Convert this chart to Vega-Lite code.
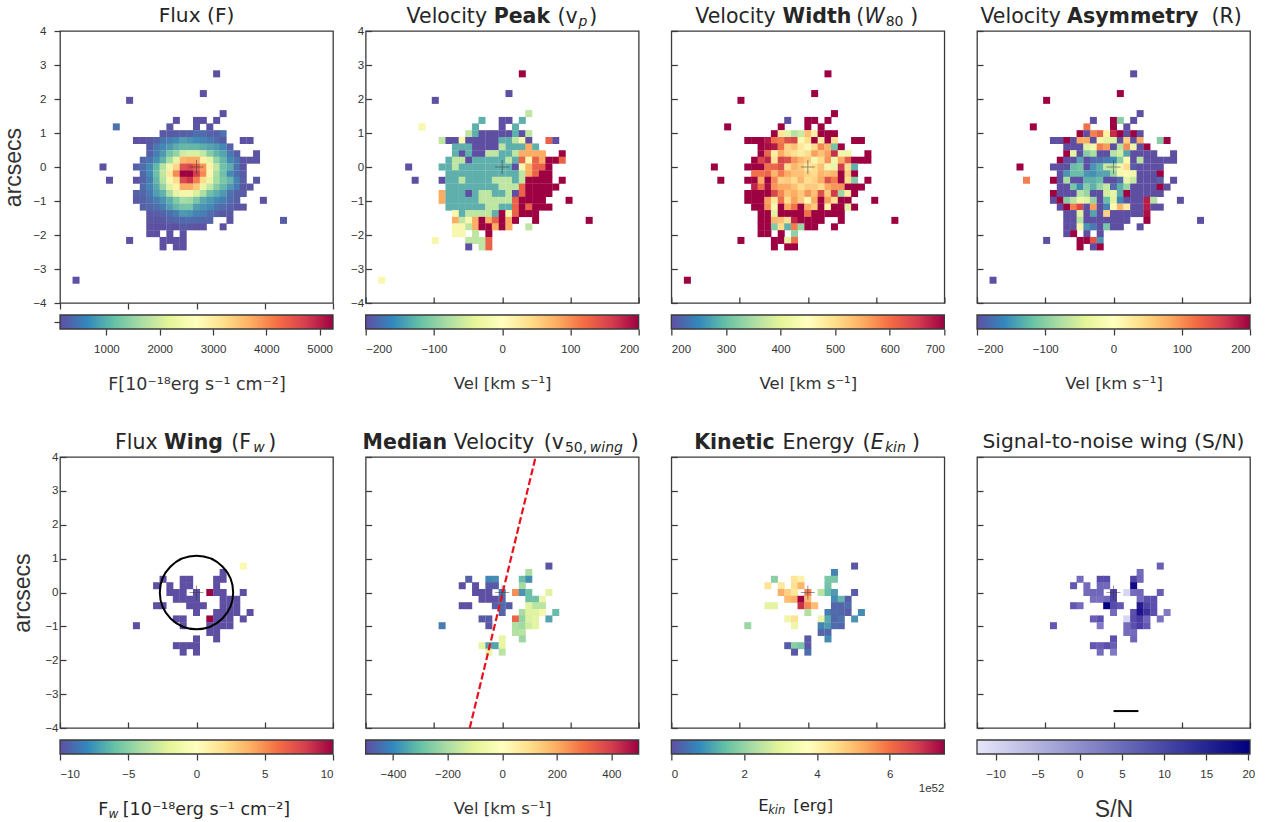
{"$schema":"https://vega.github.io/schema/vega-lite/v6.json","padding":{"left":2,"top":5,"right":0,"bottom":0},"background":"white","columns":4,"bounds":"flush","spacing":{"row":12,"column":32.67},"resolve":{"scale":{"color":"independent"}},
"config":{"view":{"stroke":"#3a3a3a","strokeWidth":1.3},"axis":{"grid":false,"domain":false,"tickColor":"#3a3a3a","tickWidth":1.25,"tickSize":6,"labelFont":"Liberation Sans","labelFontSize":11.5,"labelColor":"#333","labelPadding":8,"labelExpr":"replace(datum.label,'-','−')","titleFont":"DejaVu Sans","titleFontWeight":"normal","titleFontSize":16.5,"titleColor":"#333","titlePadding":21},"title":{"font":"DejaVu Sans","fontSize":20.2,"fontWeight":"normal","color":"#262626","offset":-1},"text":{"font":"DejaVu Sans","fontSize":20.5,"color":"#262626","align":"left","baseline":"alphabetic"}},
"datasets":{"cells":[
{"x":0.59,"y":2.74,"f":150,"vp":200,"w":700,"a":-200},{"x":0.2,"y":2.16,"f":150,"vp":-200,"w":700,"a":200},{"x":-1.96,"y":1.96,"f":170,"vp":-200,"w":700,"a":200},{"x":0.78,"y":1.57,"f":150,"vp":-65,"w":700,"a":-200},
{"x":-0.59,"y":1.37,"f":150,"vp":-130,"w":200,"a":-200},{"x":0,"y":1.37,"f":150,"vp":-200,"w":700,"a":200},{"x":0.2,"y":1.37,"f":150,"vp":-200,"w":700,"a":-100},{"x":0.59,"y":1.37,"f":150,"vp":-130,"w":700,"a":-200},
{"x":-2.35,"y":1.18,"f":450,"vp":-5,"w":700,"a":200},{"x":-0.78,"y":1.18,"f":200,"vp":-130,"w":700,"a":120},{"x":0,"y":1.18,"f":200,"vp":-200,"w":700,"a":200},{"x":0.39,"y":1.18,"f":150,"vp":-130,"w":700,"a":-200},
{"x":-0.98,"y":0.98,"f":200,"vp":-65,"w":700,"a":200},{"x":-0.78,"y":0.98,"f":220,"vp":-130,"w":480,"a":-200},{"x":-0.59,"y":0.98,"f":250,"vp":-200,"w":410,"a":110},{"x":-0.39,"y":0.98,"f":260,"vp":-200,"w":360,"a":130},{"x":-0.2,"y":0.98,"f":300,"vp":-200,"w":380,"a":10},{"x":0,"y":0.98,"f":420,"vp":-200,"w":530,"a":170},{"x":0.2,"y":0.98,"f":400,"vp":-200,"w":470,"a":200},{"x":0.39,"y":0.98,"f":300,"vp":-130,"w":700,"a":-200},{"x":0.59,"y":0.98,"f":280,"vp":-200,"w":700,"a":200},{"x":0.78,"y":0.98,"f":450,"vp":-65,"w":700,"a":-200},
{"x":-1.76,"y":0.78,"f":150,"vp":-65,"w":700,"a":-200},{"x":-1.56,"y":0.78,"f":170,"vp":-200,"w":700,"a":-200},{"x":-1.37,"y":0.78,"f":200,"vp":-200,"w":700,"a":200},{"x":-1.17,"y":0.78,"f":300,"vp":-5,"w":680,"a":-200},{"x":-0.98,"y":0.78,"f":450,"vp":-200,"w":600,"a":80},{"x":-0.78,"y":0.78,"f":550,"vp":-200,"w":590,"a":80},{"x":-0.59,"y":0.78,"f":650,"vp":-200,"w":630,"a":-200},{"x":-0.39,"y":0.78,"f":850,"vp":-200,"w":640,"a":-10},{"x":-0.2,"y":0.78,"f":750,"vp":-200,"w":450,"a":-40},{"x":0,"y":0.78,"f":650,"vp":-130,"w":500,"a":-40},{"x":0.2,"y":0.78,"f":600,"vp":-130,"w":700,"a":-200},{"x":0.39,"y":0.78,"f":500,"vp":-65,"w":470,"a":50},{"x":0.59,"y":0.78,"f":400,"vp":-5,"w":700,"a":-200},{"x":0.78,"y":0.78,"f":250,"vp":-200,"w":500,"a":80},{"x":1.37,"y":0.78,"f":150,"vp":130,"w":700,"a":-100},{"x":1.57,"y":0.78,"f":150,"vp":-200,"w":700,"a":200},
{"x":-1.37,"y":0.59,"f":250,"vp":-130,"w":700,"a":-200},{"x":-1.17,"y":0.59,"f":500,"vp":-130,"w":690,"a":-200},{"x":-0.98,"y":0.59,"f":650,"vp":-130,"w":680,"a":-200},{"x":-0.78,"y":0.59,"f":800,"vp":-200,"w":600,"a":-40},{"x":-0.59,"y":0.59,"f":1000,"vp":-200,"w":510,"a":-10},{"x":-0.39,"y":0.59,"f":1100,"vp":-200,"w":530,"a":110},{"x":-0.2,"y":0.59,"f":1100,"vp":-200,"w":480,"a":90},{"x":0,"y":0.59,"f":1100,"vp":-65,"w":450,"a":-200},{"x":0.2,"y":0.59,"f":1000,"vp":-130,"w":500,"a":-70},{"x":0.39,"y":0.59,"f":900,"vp":-130,"w":580,"a":100},{"x":0.59,"y":0.59,"f":800,"vp":-130,"w":540,"a":-20},{"x":0.78,"y":0.59,"f":650,"vp":80,"w":310,"a":-200},{"x":0.98,"y":0.59,"f":300,"vp":-130,"w":700,"a":200},
{"x":-1.37,"y":0.39,"f":280,"vp":-130,"w":700,"a":200},{"x":-1.17,"y":0.39,"f":550,"vp":-200,"w":610,"a":-30},{"x":-0.98,"y":0.39,"f":800,"vp":-130,"w":470,"a":-200},{"x":-0.78,"y":0.39,"f":1250,"vp":-200,"w":550,"a":-100},{"x":-0.59,"y":0.39,"f":1500,"vp":-200,"w":510,"a":-80},{"x":-0.39,"y":0.39,"f":2000,"vp":-65,"w":490,"a":-200},{"x":-0.2,"y":0.39,"f":2100,"vp":-65,"w":470,"a":-200},{"x":0,"y":0.39,"f":2100,"vp":-130,"w":500,"a":-70},{"x":0.2,"y":0.39,"f":1900,"vp":-130,"w":560,"a":-50},{"x":0.39,"y":0.39,"f":1400,"vp":-65,"w":530,"a":-140},{"x":0.59,"y":0.39,"f":1100,"vp":80,"w":560,"a":-200},{"x":0.78,"y":0.39,"f":900,"vp":80,"w":660,"a":-200},{"x":0.98,"y":0.39,"f":500,"vp":80,"w":430,"a":-200},{"x":1.18,"y":0.39,"f":260,"vp":80,"w":430,"a":-200},{"x":1.76,"y":0.39,"f":180,"vp":200,"w":700,"a":-200},
{"x":-1.56,"y":0.2,"f":350,"vp":-130,"w":700,"a":200},{"x":-1.37,"y":0.2,"f":450,"vp":-65,"w":640,"a":-200},{"x":-1.17,"y":0.2,"f":700,"vp":-65,"w":670,"a":-200},{"x":-0.98,"y":0.2,"f":1050,"vp":-200,"w":490,"a":-140},{"x":-0.78,"y":0.2,"f":1650,"vp":-130,"w":640,"a":-200},{"x":-0.59,"y":0.2,"f":2300,"vp":-130,"w":630,"a":-180},{"x":-0.39,"y":0.2,"f":3600,"vp":-130,"w":570,"a":-180},{"x":-0.2,"y":0.2,"f":3700,"vp":-130,"w":540,"a":-170},{"x":0,"y":0.2,"f":3700,"vp":-130,"w":520,"a":-160},{"x":0.2,"y":0.2,"f":2800,"vp":-65,"w":440,"a":-100},{"x":0.39,"y":0.2,"f":2300,"vp":-130,"w":500,"a":0},{"x":0.59,"y":0.2,"f":1500,"vp":130,"w":570,"a":-200},{"x":0.78,"y":0.2,"f":1100,"vp":-5,"w":430,"a":-70},{"x":0.98,"y":0.2,"f":650,"vp":130,"w":550,"a":-200},{"x":1.18,"y":0.2,"f":450,"vp":80,"w":620,"a":-200},{"x":1.37,"y":0.2,"f":180,"vp":200,"w":700,"a":-200},{"x":1.57,"y":0.2,"f":180,"vp":200,"w":700,"a":-200},{"x":1.76,"y":0.2,"f":180,"vp":130,"w":700,"a":-200},
{"x":-2.74,"y":0,"f":150,"vp":-200,"w":700,"a":200},{"x":-1.76,"y":0,"f":300,"vp":-130,"w":700,"a":-200},{"x":-1.56,"y":0,"f":400,"vp":-130,"w":700,"a":-200},{"x":-1.37,"y":0,"f":650,"vp":-65,"w":700,"a":-200},{"x":-1.17,"y":0,"f":1100,"vp":-130,"w":600,"a":-120},{"x":-0.98,"y":0,"f":1800,"vp":-130,"w":610,"a":-110},{"x":-0.78,"y":0,"f":2500,"vp":-130,"w":630,"a":-200},{"x":-0.59,"y":0,"f":3300,"vp":-130,"w":500,"a":-150},{"x":-0.39,"y":0,"f":4500,"vp":-130,"w":540,"a":-130},{"x":-0.2,"y":0,"f":4600,"vp":-130,"w":520,"a":-60},{"x":0,"y":0,"f":4400,"vp":-130,"w":480,"a":-70},{"x":0.2,"y":0,"f":3900,"vp":-130,"w":500,"a":-10},{"x":0.39,"y":0,"f":2800,"vp":-200,"w":530,"a":40},{"x":0.59,"y":0,"f":1900,"vp":-5,"w":440,"a":-190},{"x":0.78,"y":0,"f":1200,"vp":80,"w":420,"a":-200},{"x":0.98,"y":0,"f":1000,"vp":130,"w":650,"a":-200},{"x":1.18,"y":0,"f":450,"vp":130,"w":500,"a":-200},{"x":1.37,"y":0,"f":170,"vp":200,"w":290,"a":-200},
{"x":-1.56,"y":-0.2,"f":350,"vp":-130,"w":600,"a":-200},{"x":-1.37,"y":-0.2,"f":650,"vp":-130,"w":600,"a":-150},{"x":-1.17,"y":-0.2,"f":1200,"vp":-130,"w":610,"a":-120},{"x":-0.98,"y":-0.2,"f":1900,"vp":-130,"w":540,"a":-120},{"x":-0.78,"y":-0.2,"f":3000,"vp":-130,"w":590,"a":-150},{"x":-0.59,"y":-0.2,"f":4000,"vp":-130,"w":550,"a":-155},{"x":-0.39,"y":-0.2,"f":5250,"vp":-130,"w":530,"a":-140},{"x":-0.2,"y":-0.2,"f":5250,"vp":-130,"w":530,"a":-140},{"x":0,"y":-0.2,"f":4700,"vp":-130,"w":510,"a":-90},{"x":0.2,"y":-0.2,"f":4000,"vp":-130,"w":500,"a":-10},{"x":0.39,"y":-0.2,"f":2700,"vp":-130,"w":540,"a":0},{"x":0.59,"y":-0.2,"f":1700,"vp":-65,"w":530,"a":-10},{"x":0.78,"y":-0.2,"f":1200,"vp":80,"w":540,"a":-200},{"x":0.98,"y":-0.2,"f":650,"vp":130,"w":700,"a":-200},{"x":1.18,"y":-0.2,"f":400,"vp":200,"w":520,"a":-200},{"x":1.37,"y":-0.2,"f":250,"vp":200,"w":700,"a":200},
{"x":-2.55,"y":-0.39,"f":150,"vp":-200,"w":700,"a":110},{"x":-1.76,"y":-0.39,"f":170,"vp":-200,"w":700,"a":200},{"x":-1.56,"y":-0.39,"f":300,"vp":-130,"w":700,"a":-200},{"x":-1.37,"y":-0.39,"f":550,"vp":-130,"w":550,"a":-80},{"x":-1.17,"y":-0.39,"f":1100,"vp":-65,"w":700,"a":-200},{"x":-0.98,"y":-0.39,"f":1800,"vp":-130,"w":580,"a":-200},{"x":-0.78,"y":-0.39,"f":2700,"vp":-130,"w":510,"a":-130},{"x":-0.59,"y":-0.39,"f":3200,"vp":-130,"w":520,"a":-130},{"x":-0.39,"y":-0.39,"f":4600,"vp":-130,"w":500,"a":-120},{"x":-0.2,"y":-0.39,"f":4800,"vp":-65,"w":540,"a":-200},{"x":0,"y":-0.39,"f":4100,"vp":-65,"w":500,"a":-200},{"x":0.2,"y":-0.39,"f":3200,"vp":-65,"w":510,"a":-180},{"x":0.39,"y":-0.39,"f":2400,"vp":-130,"w":550,"a":-30},{"x":0.59,"y":-0.39,"f":1650,"vp":-65,"w":630,"a":-60},{"x":0.78,"y":-0.39,"f":1300,"vp":200,"w":590,"a":-200},{"x":0.98,"y":-0.39,"f":1100,"vp":200,"w":700,"a":-200},{"x":1.18,"y":-0.39,"f":600,"vp":200,"w":500,"a":-200},{"x":1.37,"y":-0.39,"f":300,"vp":200,"w":320,"a":-185},{"x":1.76,"y":-0.39,"f":200,"vp":200,"w":700,"a":-200},
{"x":-1.56,"y":-0.59,"f":380,"vp":-130,"w":670,"a":-200},{"x":-1.37,"y":-0.59,"f":600,"vp":-130,"w":600,"a":-200},{"x":-1.17,"y":-0.59,"f":950,"vp":-130,"w":690,"a":-110},{"x":-0.98,"y":-0.59,"f":1500,"vp":-130,"w":570,"a":-160},{"x":-0.78,"y":-0.59,"f":2200,"vp":-130,"w":550,"a":-100},{"x":-0.59,"y":-0.59,"f":2800,"vp":-130,"w":550,"a":-130},{"x":-0.39,"y":-0.59,"f":3700,"vp":-130,"w":530,"a":-90},{"x":-0.2,"y":-0.59,"f":3700,"vp":-130,"w":500,"a":-60},{"x":0,"y":-0.59,"f":3400,"vp":-65,"w":520,"a":-180},{"x":0.2,"y":-0.59,"f":2400,"vp":-65,"w":520,"a":-130},{"x":0.39,"y":-0.59,"f":1900,"vp":-65,"w":500,"a":-90},{"x":0.59,"y":-0.59,"f":1400,"vp":130,"w":550,"a":-200},{"x":0.78,"y":-0.59,"f":1100,"vp":200,"w":570,"a":-200},{"x":0.98,"y":-0.59,"f":800,"vp":200,"w":570,"a":-200},{"x":1.18,"y":-0.59,"f":500,"vp":200,"w":700,"a":-200},{"x":1.37,"y":-0.59,"f":200,"vp":200,"w":700,"a":200},{"x":1.57,"y":-0.59,"f":180,"vp":200,"w":700,"a":-200},
{"x":-1.76,"y":-0.78,"f":300,"vp":80,"w":700,"a":200},{"x":-1.56,"y":-0.78,"f":350,"vp":-130,"w":700,"a":-200},{"x":-1.37,"y":-0.78,"f":500,"vp":-130,"w":700,"a":-200},{"x":-1.17,"y":-0.78,"f":850,"vp":-130,"w":700,"a":-200},{"x":-0.98,"y":-0.78,"f":1050,"vp":-200,"w":640,"a":-70},{"x":-0.78,"y":-0.78,"f":1700,"vp":-130,"w":580,"a":-90},{"x":-0.59,"y":-0.78,"f":2300,"vp":-65,"w":530,"a":-200},{"x":-0.39,"y":-0.78,"f":2600,"vp":-65,"w":550,"a":-200},{"x":-0.2,"y":-0.78,"f":2600,"vp":-130,"w":520,"a":-50},{"x":0,"y":-0.78,"f":2100,"vp":-130,"w":570,"a":-30},{"x":0.2,"y":-0.78,"f":1700,"vp":-65,"w":530,"a":-135},{"x":0.39,"y":-0.78,"f":1200,"vp":-200,"w":630,"a":200},{"x":0.59,"y":-0.78,"f":1000,"vp":130,"w":520,"a":-200},{"x":0.78,"y":-0.78,"f":800,"vp":200,"w":650,"a":-200},{"x":0.98,"y":-0.78,"f":450,"vp":200,"w":340,"a":-200},{"x":1.18,"y":-0.78,"f":300,"vp":200,"w":470,"a":-200},{"x":1.37,"y":-0.78,"f":260,"vp":200,"w":700,"a":-200},
{"x":-1.76,"y":-0.98,"f":230,"vp":80,"w":700,"a":-200},{"x":-1.56,"y":-0.98,"f":280,"vp":-130,"w":700,"a":200},{"x":-1.37,"y":-0.98,"f":420,"vp":-130,"w":700,"a":-100},{"x":-1.17,"y":-0.98,"f":550,"vp":-130,"w":560,"a":-70},{"x":-0.98,"y":-0.98,"f":750,"vp":-130,"w":480,"a":-20},{"x":-0.78,"y":-0.98,"f":1000,"vp":-130,"w":600,"a":-40},{"x":-0.59,"y":-0.98,"f":1350,"vp":-65,"w":500,"a":-90},{"x":-0.39,"y":-0.98,"f":1650,"vp":-65,"w":560,"a":-200},{"x":-0.2,"y":-0.98,"f":1600,"vp":-65,"w":520,"a":-120},{"x":0,"y":-0.98,"f":1300,"vp":-65,"w":450,"a":-40},{"x":0.2,"y":-0.98,"f":950,"vp":-65,"w":550,"a":-160},{"x":0.39,"y":-0.98,"f":800,"vp":130,"w":700,"a":-200},{"x":0.59,"y":-0.98,"f":650,"vp":200,"w":560,"a":-200},{"x":0.78,"y":-0.98,"f":550,"vp":200,"w":500,"a":-200},{"x":0.98,"y":-0.98,"f":400,"vp":200,"w":700,"a":180},{"x":1.18,"y":-0.98,"f":300,"vp":200,"w":700,"a":-70},{"x":1.96,"y":-0.98,"f":150,"vp":200,"w":700,"a":-200},
{"x":-1.56,"y":-1.18,"f":300,"vp":-130,"w":700,"a":-200},{"x":-1.37,"y":-1.18,"f":350,"vp":-130,"w":700,"a":200},{"x":-1.17,"y":-1.18,"f":420,"vp":-130,"w":570,"a":110},{"x":-0.98,"y":-1.18,"f":550,"vp":-130,"w":450,"a":150},{"x":-0.78,"y":-1.18,"f":850,"vp":-130,"w":700,"a":-200},{"x":-0.59,"y":-1.18,"f":1100,"vp":-130,"w":550,"a":90},{"x":-0.39,"y":-1.18,"f":1250,"vp":-65,"w":600,"a":-200},{"x":-0.2,"y":-1.18,"f":1250,"vp":-65,"w":700,"a":-165},{"x":0,"y":-1.18,"f":850,"vp":-130,"w":550,"a":0},{"x":0.2,"y":-1.18,"f":750,"vp":-130,"w":520,"a":70},{"x":0.39,"y":-1.18,"f":650,"vp":130,"w":700,"a":20},{"x":0.59,"y":-1.18,"f":450,"vp":200,"w":460,"a":-200},{"x":0.78,"y":-1.18,"f":400,"vp":130,"w":700,"a":-200},{"x":0.98,"y":-1.18,"f":300,"vp":200,"w":700,"a":180},{"x":1.18,"y":-1.18,"f":200,"vp":200,"w":400,"a":-200},{"x":1.37,"y":-1.18,"f":180,"vp":200,"w":700,"a":-200},
{"x":-1.37,"y":-1.37,"f":220,"vp":-5,"w":700,"a":-200},{"x":-1.17,"y":-1.37,"f":260,"vp":-130,"w":700,"a":-200},{"x":-0.98,"y":-1.37,"f":320,"vp":-65,"w":400,"a":-40},{"x":-0.78,"y":-1.37,"f":420,"vp":-65,"w":700,"a":-200},{"x":-0.59,"y":-1.37,"f":550,"vp":-65,"w":700,"a":-140},{"x":-0.39,"y":-1.37,"f":800,"vp":-65,"w":700,"a":-200},{"x":-0.2,"y":-1.37,"f":750,"vp":-130,"w":700,"a":50},{"x":0,"y":-1.37,"f":600,"vp":200,"w":600,"a":-200},{"x":0.2,"y":-1.37,"f":550,"vp":-5,"w":700,"a":-200},{"x":0.39,"y":-1.37,"f":400,"vp":130,"w":700,"a":-200},{"x":0.59,"y":-1.37,"f":300,"vp":200,"w":700,"a":-200},{"x":0.78,"y":-1.37,"f":200,"vp":200,"w":700,"a":-200},{"x":0.98,"y":-1.37,"f":230,"vp":200,"w":700,"a":190},
{"x":-1.37,"y":-1.57,"f":180,"vp":80,"w":700,"a":-200},{"x":-1.17,"y":-1.57,"f":180,"vp":-65,"w":700,"a":-200},{"x":-0.98,"y":-1.57,"f":200,"vp":-5,"w":540,"a":-70},{"x":-0.78,"y":-1.57,"f":300,"vp":80,"w":530,"a":-200},{"x":-0.59,"y":-1.57,"f":350,"vp":200,"w":490,"a":-200},{"x":-0.39,"y":-1.57,"f":380,"vp":80,"w":670,"a":-200},{"x":-0.2,"y":-1.57,"f":400,"vp":130,"w":700,"a":-200},{"x":0,"y":-1.57,"f":380,"vp":200,"w":700,"a":-200},{"x":0.2,"y":-1.57,"f":350,"vp":80,"w":700,"a":-200},{"x":0.39,"y":-1.57,"f":330,"vp":200,"w":700,"a":-200},{"x":0.98,"y":-1.57,"f":170,"vp":200,"w":700,"a":200},{"x":2.55,"y":-1.57,"f":250,"vp":200,"w":700,"a":-200},
{"x":-1.37,"y":-1.76,"f":150,"vp":-5,"w":700,"a":-200},{"x":-1.17,"y":-1.76,"f":140,"vp":-5,"w":700,"a":-200},{"x":-0.98,"y":-1.76,"f":140,"vp":-65,"w":320,"a":-10},{"x":-0.78,"y":-1.76,"f":180,"vp":80,"w":500,"a":-150},{"x":-0.59,"y":-1.76,"f":140,"vp":200,"w":290,"a":-170},{"x":-0.39,"y":-1.76,"f":250,"vp":200,"w":590,"a":-200},{"x":-0.2,"y":-1.76,"f":200,"vp":80,"w":340,"a":-110},{"x":0,"y":-1.76,"f":170,"vp":200,"w":700,"a":-200},{"x":0.2,"y":-1.76,"f":170,"vp":80,"w":700,"a":-200},{"x":0.78,"y":-1.76,"f":150,"vp":-65,"w":700,"a":-200},
{"x":-1.37,"y":-1.96,"f":140,"vp":-5,"w":700,"a":-200},{"x":-1.17,"y":-1.96,"f":140,"vp":-5,"w":700,"a":200},{"x":-0.78,"y":-1.96,"f":150,"vp":-65,"w":700,"a":-200},{"x":-0.39,"y":-1.96,"f":150,"vp":200,"w":330,"a":-200},
{"x":-1.96,"y":-2.16,"f":150,"vp":-5,"w":700,"a":-200},{"x":-0.98,"y":-2.16,"f":140,"vp":-65,"w":700,"a":200},{"x":-0.78,"y":-2.16,"f":140,"vp":-65,"w":700,"a":200},{"x":-0.59,"y":-2.16,"f":140,"vp":-65,"w":410,"a":140},{"x":-0.39,"y":-2.16,"f":140,"vp":130,"w":600,"a":-150},
{"x":-0.98,"y":-2.35,"f":140,"vp":-200,"w":700,"a":200},{"x":-0.59,"y":-2.35,"f":140,"vp":-65,"w":700,"a":-200},{"x":-0.39,"y":-2.35,"f":140,"vp":130,"w":700,"a":200},
{"x":-3.53,"y":-3.33,"f":150,"vp":-5,"w":700,"a":-200}],
"wing":[
{"x":1.37,"y":0.78,"fw":0,"v50":-490,"ek":0.1,"sn":7},{"x":0.78,"y":0.59,"fw":-10,"v50":-200,"ek":0.7,"sn":5},
{"x":-0.98,"y":0.39,"fw":-10,"v50":-470,"ek":1.9,"sn":5},{"x":-0.39,"y":0.39,"fw":-10,"v50":-400,"ek":4.3,"sn":10},{"x":-0.2,"y":0.39,"fw":-10,"v50":-390,"ek":3.9,"sn":10},{"x":0.59,"y":0.39,"fw":-10,"v50":-300,"ek":1.7,"sn":11},{"x":0.78,"y":0.39,"fw":-10,"v50":-390,"ek":1.7,"sn":6},
{"x":-1.17,"y":0.2,"fw":-10,"v50":-500,"ek":4.3,"sn":8},{"x":-0.78,"y":0.2,"fw":-10,"v50":-500,"ek":4.2,"sn":5},{"x":-0.39,"y":0.2,"fw":-10,"v50":-480,"ek":4.4,"sn":5.5},{"x":-0.2,"y":0.2,"fw":-10,"v50":-480,"ek":5.1,"sn":5.5},{"x":0.59,"y":0.2,"fw":-10,"v50":-210,"ek":1.6,"sn":19},
{"x":-0.78,"y":0,"fw":-10,"v50":-500,"ek":5.2,"sn":5},{"x":-0.59,"y":0,"fw":-10,"v50":-500,"ek":4.7,"sn":6},{"x":-0.39,"y":0,"fw":-10,"v50":-500,"ek":4.2,"sn":6},{"x":0,"y":0,"fw":-10,"v50":-430,"ek":5.8,"sn":11},{"x":0.39,"y":0,"fw":10,"v50":250,"ek":2.5,"sn":-10},{"x":0.59,"y":0,"fw":-10,"v50":-380,"ek":1.5,"sn":5},{"x":0.78,"y":0,"fw":-10,"v50":-290,"ek":1,"sn":5.5},{"x":1.37,"y":0,"fw":-10,"v50":-100,"ek":0.2,"sn":7},
{"x":-0.59,"y":-0.2,"fw":-10,"v50":-500,"ek":5,"sn":4.5},{"x":-0.39,"y":-0.2,"fw":-10,"v50":-500,"ek":5.2,"sn":4.5},{"x":-0.2,"y":-0.2,"fw":-10,"v50":-500,"ek":7.5,"sn":6},{"x":0,"y":-0.2,"fw":-10,"v50":-450,"ek":5,"sn":11},{"x":0.78,"y":-0.2,"fw":-10,"v50":-290,"ek":0.8,"sn":5},{"x":0.98,"y":-0.2,"fw":-10,"v50":-290,"ek":1.4,"sn":9},{"x":1.18,"y":-0.2,"fw":-10,"v50":-50,"ek":0.2,"sn":9},
{"x":-1.17,"y":-0.39,"fw":-10,"v50":-500,"ek":3.1,"sn":8},{"x":-0.98,"y":-0.39,"fw":-10,"v50":-500,"ek":3.1,"sn":5},{"x":-0.2,"y":-0.39,"fw":-10,"v50":-470,"ek":6.9,"sn":20},{"x":0,"y":-0.39,"fw":-10,"v50":-450,"ek":5.7,"sn":10},{"x":0.2,"y":-0.39,"fw":-10,"v50":-480,"ek":5,"sn":8},{"x":0.78,"y":-0.39,"fw":-10,"v50":-100,"ek":0.3,"sn":17},{"x":0.98,"y":-0.39,"fw":-10,"v50":-170,"ek":0.3,"sn":11},{"x":1.18,"y":-0.39,"fw":-10,"v50":-170,"ek":0.4,"sn":9},
{"x":0,"y":-0.59,"fw":-10,"v50":-460,"ek":2.4,"sn":5},{"x":0.59,"y":-0.59,"fw":-10,"v50":-200,"ek":0.6,"sn":9},{"x":0.78,"y":-0.59,"fw":-10,"v50":-100,"ek":0.4,"sn":18},{"x":0.98,"y":-0.59,"fw":-10,"v50":-100,"ek":0.3,"sn":14},{"x":1.18,"y":-0.59,"fw":-10,"v50":-20,"ek":0.2,"sn":9},{"x":1.57,"y":-0.59,"fw":-10,"v50":-300,"ek":0.8,"sn":3},
{"x":-0.59,"y":-0.78,"fw":-10,"v50":-480,"ek":3.5,"sn":7},{"x":-0.39,"y":-0.78,"fw":-10,"v50":-480,"ek":4.4,"sn":9},{"x":0.39,"y":-0.78,"fw":10,"v50":320,"ek":3.3,"sn":-10},{"x":0.59,"y":-0.78,"fw":-10,"v50":-230,"ek":1.2,"sn":10},{"x":0.78,"y":-0.78,"fw":-10,"v50":-110,"ek":0.3,"sn":12},{"x":0.98,"y":-0.78,"fw":-10,"v50":-80,"ek":0.5,"sn":6},{"x":1.37,"y":-0.78,"fw":-10,"v50":-350,"ek":0.9,"sn":4},
{"x":-1.76,"y":-0.98,"fw":-10,"v50":-420,"ek":2.1,"sn":8},{"x":-0.39,"y":-0.98,"fw":-10,"v50":-490,"ek":3.4,"sn":3},{"x":0.39,"y":-0.98,"fw":-10,"v50":-190,"ek":0.7,"sn":5},{"x":0.59,"y":-0.98,"fw":-10,"v50":-210,"ek":1,"sn":9},{"x":0.78,"y":-0.98,"fw":-10,"v50":-130,"ek":0.4,"sn":12},{"x":0.98,"y":-0.98,"fw":-10,"v50":-90,"ek":0.3,"sn":8},
{"x":0.39,"y":-1.18,"fw":-10,"v50":-180,"ek":0.3,"sn":5},{"x":0.59,"y":-1.18,"fw":-10,"v50":-170,"ek":0.3,"sn":5},
{"x":0,"y":-1.37,"fw":-10,"v50":-70,"ek":0.1,"sn":9},{"x":0.59,"y":-1.37,"fw":-10,"v50":-220,"ek":0.8,"sn":6},
{"x":-0.59,"y":-1.57,"fw":-10,"v50":-70,"ek":0.2,"sn":8},{"x":-0.39,"y":-1.57,"fw":-10,"v50":-350,"ek":1.9,"sn":7},{"x":-0.2,"y":-1.57,"fw":-10,"v50":-350,"ek":1.7,"sn":9},{"x":0,"y":-1.57,"fw":-10,"v50":-70,"ek":0.1,"sn":7},
{"x":-0.39,"y":-1.76,"fw":-10,"v50":-50,"ek":0.1,"sn":5},{"x":0,"y":-1.76,"fw":-10,"v50":-170,"ek":0.4,"sn":3}]},
"concat":[
{"width":273,"height":272,"title":"Flux (F)","layer":[
{"data":{"name":"cells"},"mark":{"type":"rect","width":7,"height":7},"encoding":{"x":{"field":"x","type":"quantitative","scale":{"domain":[-4,4]},"axis":{"values":[-4,-2,0,2,4],"labels":false,"title":null}},"y":{"field":"y","type":"quantitative","scale":{"domain":[-4,4]},"axis":{"values":[-4,-3,-2,-1,0,1,2,3,4],"tickCount":9,"title":"arcsecs","titleFont":"Liberation Sans","titleFontSize":23,"titlePadding":7}},"color":{"field":"f","type":"quantitative","scale":{"domain":[130,5250],"scheme":"spectral","reverse":true},"legend":null}}},
{"data":{"values":[{}]},"mark":{"type":"point","shape":"M-1,0L1,0M0,-1L0,1","size":196,"stroke":"#333","strokeWidth":1,"opacity":0.5},"encoding":{"x":{"datum":0,"type":"quantitative"},"y":{"datum":0,"type":"quantitative"}}}]},
{"width":273,"height":272,"layer":[
{"data":{"name":"cells"},"mark":{"type":"rect","width":7,"height":7},"encoding":{"x":{"field":"x","type":"quantitative","scale":{"domain":[-4,4]},"axis":{"values":[-4,-2,0,2,4],"tickSize":-6,"labels":false,"title":null}},"y":{"field":"y","type":"quantitative","scale":{"domain":[-4,4]},"axis":{"values":[-4,-3,-2,-1,0,1,2,3,4],"tickCount":9,"tickSize":-6,"title":null}},"color":{"field":"vp","type":"quantitative","scale":{"domain":[-200,200],"scheme":"spectral","reverse":true},"legend":null}}},
{"data":{"values":[{}]},"mark":{"type":"point","shape":"M-1,0L1,0M0,-1L0,1","size":196,"stroke":"#333","strokeWidth":1,"opacity":0.5},"encoding":{"x":{"datum":0,"type":"quantitative"},"y":{"datum":0,"type":"quantitative"}}},
{"data":{"values":[{"t":"Velocity"}]},"mark":{"type":"text"},"encoding":{"x":{"datum":-2.8,"type":"quantitative"},"y":{"datum":4.24,"type":"quantitative"},"text":{"field":"t"}}},
{"data":{"values":[{"t":"Peak"}]},"mark":{"type":"text","fontWeight":"bold"},"encoding":{"x":{"datum":-0.25,"type":"quantitative"},"y":{"datum":4.24,"type":"quantitative"},"text":{"field":"t"}}},
{"data":{"values":[{"t":"(v"}]},"mark":{"type":"text"},"encoding":{"x":{"datum":1.62,"type":"quantitative"},"y":{"datum":4.24,"type":"quantitative"},"text":{"field":"t"}}},
{"data":{"values":[{"t":"p"}]},"mark":{"type":"text","fontSize":14,"fontStyle":"italic"},"encoding":{"x":{"datum":2.24,"type":"quantitative"},"y":{"datum":4.16,"type":"quantitative"},"text":{"field":"t"}}},
{"data":{"values":[{"t":")"}]},"mark":{"type":"text"},"encoding":{"x":{"datum":2.55,"type":"quantitative"},"y":{"datum":4.24,"type":"quantitative"},"text":{"field":"t"}}}]},
{"width":273,"height":272,"layer":[
{"data":{"name":"cells"},"mark":{"type":"rect","width":7,"height":7},"encoding":{"x":{"field":"x","type":"quantitative","scale":{"domain":[-4,4]},"axis":{"values":[-4,-2,0,2,4],"tickSize":-6,"labels":false,"title":null}},"y":{"field":"y","type":"quantitative","scale":{"domain":[-4,4]},"axis":{"values":[-4,-3,-2,-1,0,1,2,3,4],"tickCount":9,"tickSize":-6,"labels":false,"title":null}},"color":{"field":"w","type":"quantitative","scale":{"domain":[200,700],"scheme":"spectral","reverse":true},"legend":null}}},
{"data":{"values":[{}]},"mark":{"type":"point","shape":"M-1,0L1,0M0,-1L0,1","size":196,"stroke":"#333","strokeWidth":1,"opacity":0.5},"encoding":{"x":{"datum":0,"type":"quantitative"},"y":{"datum":0,"type":"quantitative"}}},
{"data":{"values":[{"t":"Velocity"}]},"mark":{"type":"text"},"encoding":{"x":{"datum":-3.3,"type":"quantitative"},"y":{"datum":4.24,"type":"quantitative"},"text":{"field":"t"}}},
{"data":{"values":[{"t":"Width"}]},"mark":{"type":"text","fontWeight":"bold"},"encoding":{"x":{"datum":-0.74,"type":"quantitative"},"y":{"datum":4.24,"type":"quantitative"},"text":{"field":"t"}}},
{"data":{"values":[{"t":"("}]},"mark":{"type":"text"},"encoding":{"x":{"datum":1.42,"type":"quantitative"},"y":{"datum":4.24,"type":"quantitative"},"text":{"field":"t"}}},
{"data":{"values":[{"t":"W"}]},"mark":{"type":"text","fontStyle":"italic"},"encoding":{"x":{"datum":1.66,"type":"quantitative"},"y":{"datum":4.24,"type":"quantitative"},"text":{"field":"t"}}},
{"data":{"values":[{"t":"80"}]},"mark":{"type":"text","fontSize":14},"encoding":{"x":{"datum":2.28,"type":"quantitative"},"y":{"datum":4.16,"type":"quantitative"},"text":{"field":"t"}}},
{"data":{"values":[{"t":")"}]},"mark":{"type":"text"},"encoding":{"x":{"datum":3.0,"type":"quantitative"},"y":{"datum":4.24,"type":"quantitative"},"text":{"field":"t"}}}]},
{"width":273,"height":272,"layer":[
{"data":{"name":"cells"},"mark":{"type":"rect","width":7,"height":7},"encoding":{"x":{"field":"x","type":"quantitative","scale":{"domain":[-4,4]},"axis":{"values":[-4,-2,0,2,4],"tickSize":-6,"labels":false,"title":null}},"y":{"field":"y","type":"quantitative","scale":{"domain":[-4,4]},"axis":{"values":[-4,-3,-2,-1,0,1,2,3,4],"tickCount":9,"tickSize":-6,"labels":false,"title":null}},"color":{"field":"a","type":"quantitative","scale":{"domain":[-200,200],"scheme":"spectral","reverse":true},"legend":null}}},
{"data":{"values":[{}]},"mark":{"type":"point","shape":"M-1,0L1,0M0,-1L0,1","size":196,"stroke":"#333","strokeWidth":1,"opacity":0.5},"encoding":{"x":{"datum":0,"type":"quantitative"},"y":{"datum":0,"type":"quantitative"}}},
{"data":{"values":[{"t":"Velocity"}]},"mark":{"type":"text"},"encoding":{"x":{"datum":-3.9,"type":"quantitative"},"y":{"datum":4.24,"type":"quantitative"},"text":{"field":"t"}}},
{"data":{"values":[{"t":"Asymmetry"}]},"mark":{"type":"text","fontWeight":"bold"},"encoding":{"x":{"datum":-1.36,"type":"quantitative"},"y":{"datum":4.24,"type":"quantitative"},"text":{"field":"t"}}},
{"data":{"values":[{"t":"(R)"}]},"mark":{"type":"text"},"encoding":{"x":{"datum":2.87,"type":"quantitative"},"y":{"datum":4.24,"type":"quantitative"},"text":{"field":"t"}}}]},
{"width":273,"height":14,"view":{"stroke":null},"data":{"values":[{"lo":130,"hi":5250}]},"mark":{"type":"rect","stroke":"#3a3a3a","strokeWidth":1.3,"fill":{"gradient":"linear","x1":0,"y1":0,"x2":1,"y2":0,"stops":[{"offset":0,"color":"#5e4fa2"},{"offset":0.1,"color":"#3288bd"},{"offset":0.2,"color":"#66c2a5"},{"offset":0.3,"color":"#abdda4"},{"offset":0.4,"color":"#e6f598"},{"offset":0.5,"color":"#ffffbf"},{"offset":0.6,"color":"#fee08b"},{"offset":0.7,"color":"#fdae61"},{"offset":0.8,"color":"#f46d43"},{"offset":0.9,"color":"#d53e4f"},{"offset":1,"color":"#9e0142"}]}},"encoding":{"x":{"field":"lo","type":"quantitative","scale":{"domain":[130,5250]},"axis":{"values":[1000,2000,3000,4000,5000],"format":"d","title":"F[10⁻¹⁸erg s⁻¹ cm⁻²]","titleFontSize":17.5}},"x2":{"field":"hi"},"y":{"datum":0,"type":"quantitative","scale":{"domain":[0,1]},"axis":{"values":[0.5],"labels":false,"title":null}},"y2":{"datum":1}}},
{"width":273,"height":14,"view":{"stroke":null},"data":{"values":[{"lo":-200,"hi":200}]},"mark":{"type":"rect","stroke":"#3a3a3a","strokeWidth":1.3,"fill":{"gradient":"linear","x1":0,"y1":0,"x2":1,"y2":0,"stops":[{"offset":0,"color":"#5e4fa2"},{"offset":0.1,"color":"#3288bd"},{"offset":0.2,"color":"#66c2a5"},{"offset":0.3,"color":"#abdda4"},{"offset":0.4,"color":"#e6f598"},{"offset":0.5,"color":"#ffffbf"},{"offset":0.6,"color":"#fee08b"},{"offset":0.7,"color":"#fdae61"},{"offset":0.8,"color":"#f46d43"},{"offset":0.9,"color":"#d53e4f"},{"offset":1,"color":"#9e0142"}]}},"encoding":{"x":{"field":"lo","type":"quantitative","scale":{"domain":[-200,200]},"axis":{"values":[-200,-100,0,100,200],"title":"Vel [km s⁻¹]"}},"x2":{"field":"hi"}}},
{"width":273,"height":14,"view":{"stroke":null},"data":{"values":[{"lo":200,"hi":700}]},"mark":{"type":"rect","stroke":"#3a3a3a","strokeWidth":1.3,"fill":{"gradient":"linear","x1":0,"y1":0,"x2":1,"y2":0,"stops":[{"offset":0,"color":"#5e4fa2"},{"offset":0.1,"color":"#3288bd"},{"offset":0.2,"color":"#66c2a5"},{"offset":0.3,"color":"#abdda4"},{"offset":0.4,"color":"#e6f598"},{"offset":0.5,"color":"#ffffbf"},{"offset":0.6,"color":"#fee08b"},{"offset":0.7,"color":"#fdae61"},{"offset":0.8,"color":"#f46d43"},{"offset":0.9,"color":"#d53e4f"},{"offset":1,"color":"#9e0142"}]}},"encoding":{"x":{"field":"lo","type":"quantitative","scale":{"domain":[200,700]},"axis":{"values":[200,300,400,500,600,700],"title":"Vel [km s⁻¹]"}},"x2":{"field":"hi"}}},
{"width":273,"height":14,"view":{"stroke":null},"data":{"values":[{"lo":-200,"hi":200}]},"mark":{"type":"rect","stroke":"#3a3a3a","strokeWidth":1.3,"fill":{"gradient":"linear","x1":0,"y1":0,"x2":1,"y2":0,"stops":[{"offset":0,"color":"#5e4fa2"},{"offset":0.1,"color":"#3288bd"},{"offset":0.2,"color":"#66c2a5"},{"offset":0.3,"color":"#abdda4"},{"offset":0.4,"color":"#e6f598"},{"offset":0.5,"color":"#ffffbf"},{"offset":0.6,"color":"#fee08b"},{"offset":0.7,"color":"#fdae61"},{"offset":0.8,"color":"#f46d43"},{"offset":0.9,"color":"#d53e4f"},{"offset":1,"color":"#9e0142"}]}},"encoding":{"x":{"field":"lo","type":"quantitative","scale":{"domain":[-200,200]},"axis":{"values":[-200,-100,0,100,200],"title":"Vel [km s⁻¹]"}},"x2":{"field":"hi"}}},
{"width":273,"height":104,"view":{"stroke":null},"data":{"values":[]},"mark":{"type":"rect","opacity":0}},
{"width":273,"height":104,"view":{"stroke":null},"data":{"values":[]},"mark":{"type":"rect","opacity":0}},
{"width":273,"height":104,"view":{"stroke":null},"data":{"values":[]},"mark":{"type":"rect","opacity":0}},
{"width":273,"height":104,"view":{"stroke":null},"data":{"values":[]},"mark":{"type":"rect","opacity":0}},
{"width":273,"height":271,"layer":[
{"data":{"name":"wing"},"mark":{"type":"rect","width":7,"height":7},"encoding":{"x":{"field":"x","type":"quantitative","scale":{"domain":[-4,4]},"axis":{"values":[-4,-2,0,2,4],"tickSize":-6,"labels":false,"title":null}},"y":{"field":"y","type":"quantitative","scale":{"domain":[-4,4]},"axis":{"values":[-4,-3,-2,-1,0,1,2,3,4],"tickCount":9,"tickSize":-6,"title":"arcsecs","titleFont":"Liberation Sans","titleFontSize":23,"titlePadding":10}},"color":{"field":"fw","type":"quantitative","scale":{"domain":[-10,10],"scheme":"spectral","reverse":true},"legend":null}}},
{"data":{"values":[{}]},"mark":{"type":"point","shape":"M-1,0L1,0M0,-1L0,1","size":196,"stroke":"#333","strokeWidth":1,"opacity":0.5},"encoding":{"x":{"datum":0,"type":"quantitative"},"y":{"datum":0,"type":"quantitative"}}},
{"data":{"values":[{}]},"mark":{"type":"point","shape":"circle","size":5378,"stroke":"black","strokeWidth":2,"filled":false,"opacity":1},"encoding":{"x":{"datum":0,"type":"quantitative"},"y":{"datum":0,"type":"quantitative"}}},
{"data":{"values":[{"t":"Flux"}]},"mark":{"type":"text"},"encoding":{"x":{"datum":-2.39,"type":"quantitative"},"y":{"datum":4.24,"type":"quantitative"},"text":{"field":"t"}}},
{"data":{"values":[{"t":"Wing"}]},"mark":{"type":"text","fontWeight":"bold"},"encoding":{"x":{"datum":-0.95,"type":"quantitative"},"y":{"datum":4.24,"type":"quantitative"},"text":{"field":"t"}}},
{"data":{"values":[{"t":"(F"}]},"mark":{"type":"text"},"encoding":{"x":{"datum":1.02,"type":"quantitative"},"y":{"datum":4.24,"type":"quantitative"},"text":{"field":"t"}}},
{"data":{"values":[{"t":"w"}]},"mark":{"type":"text","fontSize":14,"fontStyle":"italic"},"encoding":{"x":{"datum":1.66,"type":"quantitative"},"y":{"datum":4.16,"type":"quantitative"},"text":{"field":"t"}}},
{"data":{"values":[{"t":")"}]},"mark":{"type":"text"},"encoding":{"x":{"datum":2.1,"type":"quantitative"},"y":{"datum":4.24,"type":"quantitative"},"text":{"field":"t"}}}]},
{"width":273,"height":271,"layer":[
{"data":{"name":"wing"},"mark":{"type":"rect","width":7,"height":7},"encoding":{"x":{"field":"x","type":"quantitative","scale":{"domain":[-4,4]},"axis":{"values":[-4,-2,0,2,4],"tickSize":-6,"labels":false,"title":null}},"y":{"field":"y","type":"quantitative","scale":{"domain":[-4,4]},"axis":{"values":[-4,-3,-2,-1,0,1,2,3,4],"tickCount":9,"tickSize":-6,"labels":false,"title":null}},"color":{"field":"v50","type":"quantitative","scale":{"domain":[-500,500],"scheme":"spectral","reverse":true},"legend":null}}},
{"data":{"values":[{}]},"mark":{"type":"point","shape":"M-1,0L1,0M0,-1L0,1","size":196,"stroke":"#333","strokeWidth":1,"opacity":0.5},"encoding":{"x":{"datum":0,"type":"quantitative"},"y":{"datum":0,"type":"quantitative"}}},
{"data":{"values":[{"lx":0.98,"ly":4},{"lx":-0.95,"ly":-4}]},"mark":{"type":"line","color":"#e8101c","strokeWidth":2.2,"strokeDash":[7,3]},"encoding":{"x":{"field":"lx","type":"quantitative"},"y":{"field":"ly","type":"quantitative"}}},
{"data":{"values":[{"t":"Median"}]},"mark":{"type":"text","fontWeight":"bold"},"encoding":{"x":{"datum":-4.09,"type":"quantitative"},"y":{"datum":4.24,"type":"quantitative"},"text":{"field":"t"}}},
{"data":{"values":[{"t":"Velocity"}]},"mark":{"type":"text"},"encoding":{"x":{"datum":-1.42,"type":"quantitative"},"y":{"datum":4.24,"type":"quantitative"},"text":{"field":"t"}}},
{"data":{"values":[{"t":"(v"}]},"mark":{"type":"text"},"encoding":{"x":{"datum":1.22,"type":"quantitative"},"y":{"datum":4.24,"type":"quantitative"},"text":{"field":"t"}}},
{"data":{"values":[{"t":"50,"}]},"mark":{"type":"text","fontSize":14},"encoding":{"x":{"datum":1.84,"type":"quantitative"},"y":{"datum":4.16,"type":"quantitative"},"text":{"field":"t"}}},
{"data":{"values":[{"t":"wing"}]},"mark":{"type":"text","fontSize":14,"fontStyle":"italic"},"encoding":{"x":{"datum":2.57,"type":"quantitative"},"y":{"datum":4.16,"type":"quantitative"},"text":{"field":"t"}}},
{"data":{"values":[{"t":")"}]},"mark":{"type":"text"},"encoding":{"x":{"datum":3.77,"type":"quantitative"},"y":{"datum":4.24,"type":"quantitative"},"text":{"field":"t"}}}]},
{"width":273,"height":271,"layer":[
{"data":{"name":"wing"},"mark":{"type":"rect","width":7,"height":7},"encoding":{"x":{"field":"x","type":"quantitative","scale":{"domain":[-4,4]},"axis":{"values":[-4,-2,0,2,4],"tickSize":-6,"labels":false,"title":null}},"y":{"field":"y","type":"quantitative","scale":{"domain":[-4,4]},"axis":{"values":[-4,-3,-2,-1,0,1,2,3,4],"tickCount":9,"tickSize":-6,"labels":false,"title":null}},"color":{"field":"ek","type":"quantitative","scale":{"domain":[0,7.5],"scheme":"spectral","reverse":true},"legend":null}}},
{"data":{"values":[{}]},"mark":{"type":"point","shape":"M-1,0L1,0M0,-1L0,1","size":196,"stroke":"#333","strokeWidth":1,"opacity":0.5},"encoding":{"x":{"datum":0,"type":"quantitative"},"y":{"datum":0,"type":"quantitative"}}},
{"data":{"values":[{"t":"Kinetic"}]},"mark":{"type":"text","fontWeight":"bold"},"encoding":{"x":{"datum":-3.33,"type":"quantitative"},"y":{"datum":4.24,"type":"quantitative"},"text":{"field":"t"}}},
{"data":{"values":[{"t":"Energy"}]},"mark":{"type":"text"},"encoding":{"x":{"datum":-0.74,"type":"quantitative"},"y":{"datum":4.24,"type":"quantitative"},"text":{"field":"t"}}},
{"data":{"values":[{"t":"("}]},"mark":{"type":"text"},"encoding":{"x":{"datum":1.6,"type":"quantitative"},"y":{"datum":4.24,"type":"quantitative"},"text":{"field":"t"}}},
{"data":{"values":[{"t":"E"}]},"mark":{"type":"text","fontStyle":"italic"},"encoding":{"x":{"datum":1.84,"type":"quantitative"},"y":{"datum":4.24,"type":"quantitative"},"text":{"field":"t"}}},
{"data":{"values":[{"t":"kin"}]},"mark":{"type":"text","fontSize":14,"fontStyle":"italic"},"encoding":{"x":{"datum":2.26,"type":"quantitative"},"y":{"datum":4.16,"type":"quantitative"},"text":{"field":"t"}}},
{"data":{"values":[{"t":")"}]},"mark":{"type":"text"},"encoding":{"x":{"datum":3.05,"type":"quantitative"},"y":{"datum":4.24,"type":"quantitative"},"text":{"field":"t"}}}]},
{"width":273,"height":271,"title":{"text":"Signal-to-noise wing (S/N)","offset":4},"layer":[
{"data":{"name":"wing"},"mark":{"type":"rect","width":7,"height":7},"encoding":{"x":{"field":"x","type":"quantitative","scale":{"domain":[-4,4]},"axis":{"values":[-4,-2,0,2,4],"tickSize":-6,"labels":false,"title":null}},"y":{"field":"y","type":"quantitative","scale":{"domain":[-4,4]},"axis":{"values":[-4,-3,-2,-1,0,1,2,3,4],"tickCount":9,"tickSize":-6,"labels":false,"title":null}},"color":{"field":"sn","type":"quantitative","scale":{"domain":[-12.2,20.2],"range":["#e6e6fa","#000080"]},"legend":null}}},
{"data":{"values":[{}]},"mark":{"type":"point","shape":"M-1,0L1,0M0,-1L0,1","size":196,"stroke":"#333","strokeWidth":1,"opacity":0.5},"encoding":{"x":{"datum":0,"type":"quantitative"},"y":{"datum":0,"type":"quantitative"}}},
{"data":{"values":[{"lx":0,"ly":-3.5},{"lx":0.73,"ly":-3.5}]},"mark":{"type":"line","color":"black","strokeWidth":2},"encoding":{"x":{"field":"lx","type":"quantitative"},"y":{"field":"ly","type":"quantitative"}}}]},
{"width":273,"height":14,"view":{"stroke":null},"layer":[
{"data":{"values":[{"lo":-10,"hi":10}]},"mark":{"type":"rect","stroke":"#3a3a3a","strokeWidth":1.3,"fill":{"gradient":"linear","x1":0,"y1":0,"x2":1,"y2":0,"stops":[{"offset":0,"color":"#5e4fa2"},{"offset":0.1,"color":"#3288bd"},{"offset":0.2,"color":"#66c2a5"},{"offset":0.3,"color":"#abdda4"},{"offset":0.4,"color":"#e6f598"},{"offset":0.5,"color":"#ffffbf"},{"offset":0.6,"color":"#fee08b"},{"offset":0.7,"color":"#fdae61"},{"offset":0.8,"color":"#f46d43"},{"offset":0.9,"color":"#d53e4f"},{"offset":1,"color":"#9e0142"}]}},"encoding":{"x":{"field":"lo","type":"quantitative","scale":{"domain":[-10,10],"nice":false},"axis":{"values":[-10,-5,0,5,10],"title":null}},"x2":{"field":"hi"},"y":{"datum":0,"type":"quantitative","scale":{"domain":[0,1]},"axis":null},"y2":{"datum":1}}},
{"data":{"values":[{"t":"F"}]},"mark":{"type":"text","fontSize":17.5},"encoding":{"x":{"datum":-7.2,"type":"quantitative"},"y":{"datum":-4.36,"type":"quantitative","axis":null},"text":{"field":"t"}}},
{"data":{"values":[{"t":"w"}]},"mark":{"type":"text","fontSize":12,"fontStyle":"italic"},"encoding":{"x":{"datum":-6.45,"type":"quantitative"},"y":{"datum":-4.55,"type":"quantitative","axis":null},"text":{"field":"t"}}},
{"data":{"values":[{"t":"[10⁻¹⁸erg s⁻¹ cm⁻²]"}]},"mark":{"type":"text","fontSize":17.5},"encoding":{"x":{"datum":-5.4,"type":"quantitative"},"y":{"datum":-4.36,"type":"quantitative","axis":null},"text":{"field":"t"}}}]},
{"width":273,"height":14,"view":{"stroke":null},"data":{"values":[{"lo":-500,"hi":500}]},"mark":{"type":"rect","stroke":"#3a3a3a","strokeWidth":1.3,"fill":{"gradient":"linear","x1":0,"y1":0,"x2":1,"y2":0,"stops":[{"offset":0,"color":"#5e4fa2"},{"offset":0.1,"color":"#3288bd"},{"offset":0.2,"color":"#66c2a5"},{"offset":0.3,"color":"#abdda4"},{"offset":0.4,"color":"#e6f598"},{"offset":0.5,"color":"#ffffbf"},{"offset":0.6,"color":"#fee08b"},{"offset":0.7,"color":"#fdae61"},{"offset":0.8,"color":"#f46d43"},{"offset":0.9,"color":"#d53e4f"},{"offset":1,"color":"#9e0142"}]}},"encoding":{"x":{"field":"lo","type":"quantitative","scale":{"domain":[-500,500]},"axis":{"values":[-400,-200,0,200,400],"title":"Vel [km s⁻¹]"}},"x2":{"field":"hi"}}},
{"width":273,"height":14,"view":{"stroke":null},"layer":[
{"data":{"values":[{"lo":0,"hi":7.5}]},"mark":{"type":"rect","stroke":"#3a3a3a","strokeWidth":1.3,"fill":{"gradient":"linear","x1":0,"y1":0,"x2":1,"y2":0,"stops":[{"offset":0,"color":"#5e4fa2"},{"offset":0.1,"color":"#3288bd"},{"offset":0.2,"color":"#66c2a5"},{"offset":0.3,"color":"#abdda4"},{"offset":0.4,"color":"#e6f598"},{"offset":0.5,"color":"#ffffbf"},{"offset":0.6,"color":"#fee08b"},{"offset":0.7,"color":"#fdae61"},{"offset":0.8,"color":"#f46d43"},{"offset":0.9,"color":"#d53e4f"},{"offset":1,"color":"#9e0142"}]}},"encoding":{"x":{"field":"lo","type":"quantitative","scale":{"domain":[0,7.5],"nice":false},"axis":{"values":[0,2,4,6],"title":null}},"x2":{"field":"hi"},"y":{"datum":0,"type":"quantitative","scale":{"domain":[0,1]},"axis":null},"y2":{"datum":1}}},
{"data":{"values":[{"t":"E"}]},"mark":{"type":"text","fontSize":16.5},"encoding":{"x":{"datum":2.39,"type":"quantitative"},"y":{"datum":-4.05,"type":"quantitative","axis":null},"text":{"field":"t"}}},
{"data":{"values":[{"t":"kin"}]},"mark":{"type":"text","fontSize":11.5,"fontStyle":"italic"},"encoding":{"x":{"datum":2.66,"type":"quantitative"},"y":{"datum":-4.25,"type":"quantitative","axis":null},"text":{"field":"t"}}},
{"data":{"values":[{"t":"[erg]"}]},"mark":{"type":"text","fontSize":16.5},"encoding":{"x":{"datum":3.35,"type":"quantitative"},"y":{"datum":-4.05,"type":"quantitative","axis":null},"text":{"field":"t"}}},
{"data":{"values":[{"t":"1e52"}]},"mark":{"type":"text","font":"Liberation Sans","fontSize":11.5,"align":"right","color":"#333"},"encoding":{"x":{"datum":7.5,"type":"quantitative"},"y":{"datum":-2.7,"type":"quantitative","axis":null},"text":{"field":"t"}}}]},
{"width":273,"height":14,"view":{"stroke":null},"data":{"values":[{"lo":-12.2,"hi":20.2}]},"mark":{"type":"rect","stroke":"#3a3a3a","strokeWidth":1.3,"fill":{"gradient":"linear","x1":0,"y1":0,"x2":1,"y2":0,"stops":[{"offset":0,"color":"#e6e6fa"},{"offset":1,"color":"#000080"}]}},"encoding":{"x":{"field":"lo","type":"quantitative","scale":{"domain":[-12.2,20.2]},"axis":{"values":[-10,-5,0,5,10,15,20],"title":"S/N","titleFont":"Liberation Sans","titleFontSize":23,"titlePadding":19}},"x2":{"field":"hi"}}}
]}
